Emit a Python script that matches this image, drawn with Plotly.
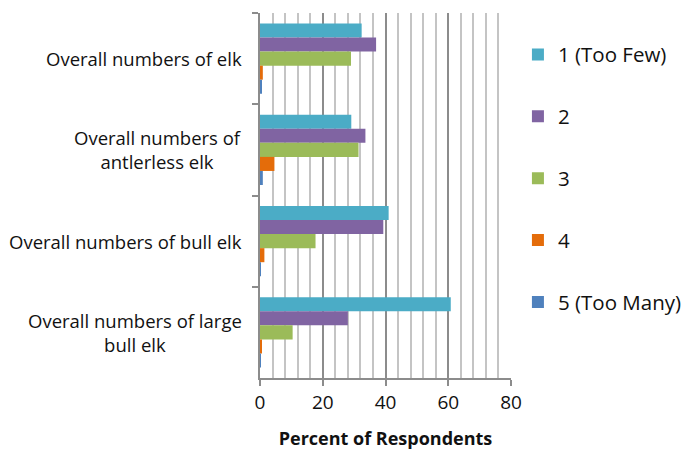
import plotly.graph_objects as go

categories = ["Overall numbers of elk", "Overall numbers of<br>antlerless elk",
              "Overall numbers of bull elk", "Overall numbers of large<br>bull elk"]
series_names = ["1 (Too Few)", "2", "3", "4", "5 (Too Many)"]
too_few = [32.4, 29.1, 41.0, 60.8]
two = [37.0, 33.6, 39.3, 28.0]
three = [29.0, 31.4, 17.7, 10.4]
four = [0.9, 4.6, 1.4, 0.4]
too_many = [0.5, 0.9, 0.2, 0.1]
series_values = [too_few, two, three, four, too_many]
colors = ["#4BACC6", "#8064A2", "#9BBB59", "#E46C0A", "#4F81BD"]
x_ticks = [0, 20, 40, 60, 80]

FONT = "Open Sans"
fig = go.Figure()
for name, vals, c in zip(series_names, series_values, colors):
    fig.add_trace(go.Bar(
        y=categories, x=vals, name=name, orientation="h",
        marker=dict(color=c, line=dict(width=0)), legendgroup=name,
    ))

for cat in categories:
    fig.add_annotation(x=-0.064, xref="paper", y=cat, yref="y", text=cat,
                       showarrow=False, xanchor="right", align="center",
                       font=dict(family=FONT, size=18.5, color="#111111"))

fig.update_layout(
    width=686, height=450,
    margin=dict(l=260, r=175, t=13, b=72, autoexpand=False),
    paper_bgcolor="white", plot_bgcolor="white",
    barmode="group", bargap=0.23, bargroupgap=0,
    font=dict(family=FONT, size=16, color="#111111"),
    legend=dict(xref="container", x=0.755, xanchor="left",
                yref="container", y=0.923, yanchor="top",
                traceorder="grouped", tracegroupgap=32.2, maxheight=420,
                font=dict(family=FONT, size=20.5, color="#111111")),
    xaxis=dict(range=[0, 80], tickvals=x_ticks, showgrid=True,
               gridcolor="#8c8c8c", gridwidth=2,
               minor=dict(dtick=4, showgrid=True, gridcolor="#c4c4c4", gridwidth=2),
               ticks="outside", ticklen=6, tickcolor="#8c8c8c", tickwidth=1.5,
               showline=True, linecolor="#8c8c8c", linewidth=1.5,
               tickfont=dict(family=FONT, size=19, color="#111111"),
               title=dict(text="<b>Percent of Respondents</b>", standoff=20,
                          font=dict(family=FONT, size=18, color="#111111")),
               zeroline=False, fixedrange=True, automargin=False),
    yaxis=dict(autorange="reversed", showticklabels=False, ticks="outside",
               tickson="boundaries", ticklen=6, tickcolor="#8c8c8c", tickwidth=1.5,
               showline=True, linecolor="#8c8c8c", linewidth=1.5,
               showgrid=False, fixedrange=True, automargin=False),
)
fig.write_html("out.html", config={"displayModeBar": False},
               post_script="document.body.style.margin='0';")
